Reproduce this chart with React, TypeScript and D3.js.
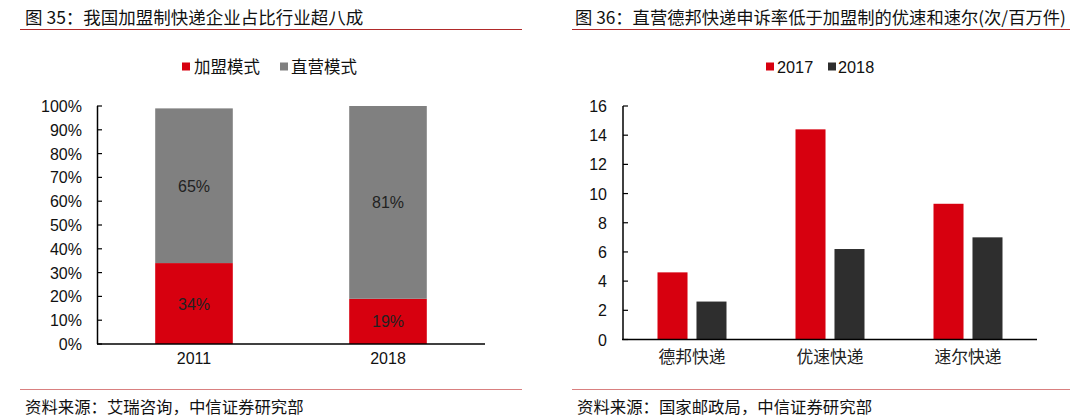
import React from "react";
import * as d3 from "d3";

const leftTitle = "图 35：我国加盟制快递企业占比行业超八成";
const rightTitle = "图 36：直营德邦快递申诉率低于加盟制的优速和速尔(次/百万件)";
const leftSource = "资料来源：艾瑞咨询，中信证券研究部";
const rightSource = "资料来源：国家邮政局，中信证券研究部";

const years = ["2011", "2018"];
const franchise = [34, 19];
const direct = [65, 81];
const leftSeriesNames = ["加盟模式", "直营模式"];
const leftTicks = [0, 10, 20, 30, 40, 50, 60, 70, 80, 90, 100];

const companies = ["德邦快递", "优速快递", "速尔快递"];
const v2017 = [4.6, 14.4, 9.3];
const v2018 = [2.6, 6.2, 7.0];
const rightSeriesNames = ["2017", "2018"];
const rightTicks = [0, 2, 4, 6, 8, 10, 12, 14, 16];

const RED = "#d7000f";
const GRAY = "#808080";
const DARK = "#2e2e2e";
const FONT = "'Liberation Sans', Arial, 'Noto Sans CJK SC', sans-serif";
const CJK = "'Noto Sans CJK SC', sans-serif";

export default function App() {
  const lx = d3.scaleBand().domain(years).range([97, 485]).paddingInner(0.6).paddingOuter(0.3);
  const ly = d3.scaleLinear().domain([0, 100]).range([344, 106]);
  const rx0 = d3.scaleBand().domain(companies).range([623, 1037]);
  const rx1 = d3.scaleBand().domain(rightSeriesNames).range([0, rx0.bandwidth()]).paddingInner(0.23).paddingOuter(0.885);
  const ry = d3.scaleLinear().domain([0, 16]).range([339.5, 106]);

  return (
    <div style={{ position: "absolute", left: 0, top: 0 }}>
      <svg width={1080} height={420} style={{ display: "block", background: "#fff" }}>
        {/* Left panel */}
        <text x={25} y={24} fontFamily={CJK} fontSize={17.5} fill="#111">{leftTitle}</text>
        <line x1={20} x2={522} y1={29.5} y2={29.5} stroke="#b02a2a" strokeWidth={1.2} />
        <rect x={182} y={62.5} width={8} height={8} fill={RED} />
        <text x={194} y={73} fontFamily={CJK} fontSize={16.5} fill="#111">{leftSeriesNames[0]}</text>
        <rect x={280} y={62.5} width={8} height={8} fill={GRAY} />
        <text x={291} y={73} fontFamily={CJK} fontSize={16.5} fill="#111">{leftSeriesNames[1]}</text>
        {years.map((y, i) => {
          const x = lx(y)!;
          const w = lx.bandwidth();
          return (
            <g key={y}>
              <rect x={x} y={ly(franchise[i])} width={w} height={ly(0) - ly(franchise[i])} fill={RED} />
              <rect x={x} y={ly(franchise[i] + direct[i])} width={w} height={ly(franchise[i]) - ly(franchise[i] + direct[i])} fill={GRAY} />
              <text x={x + w / 2} y={(ly(0) + ly(franchise[i])) / 2 + 6} textAnchor="middle" fontFamily={FONT} fontSize={16} fill="#222">{franchise[i]}%</text>
              <text x={x + w / 2} y={(ly(franchise[i]) + ly(franchise[i] + direct[i])) / 2 + 6} textAnchor="middle" fontFamily={FONT} fontSize={16} fill="#222">{direct[i]}%</text>
              <text x={x + w / 2} y={364} textAnchor="middle" fontFamily={FONT} fontSize={16} fill="#111">{y}</text>
            </g>
          );
        })}
        <line x1={97.5} x2={97.5} y1={106} y2={344} stroke="#000" strokeWidth={1.5} />
        <line x1={97} x2={485} y1={344} y2={344} stroke="#000" strokeWidth={1.5} />
        {leftTicks.map((t) => (
          <g key={t}>
            <line x1={97} x2={102} y1={ly(t)} y2={ly(t)} stroke="#000" strokeWidth={1.2} />
            <text x={82} y={ly(t) + 6} textAnchor="end" fontFamily={FONT} fontSize={16} fill="#111">{t}%</text>
          </g>
        ))}
        <line x1={20} x2={522} y1={389.5} y2={389.5} stroke="#d98080" strokeWidth={1.2} />
        <text x={25} y={413} fontFamily={CJK} fontSize={16.4} fill="#111">{leftSource}</text>

        {/* Right panel */}
        <text x={575} y={24} fontFamily={CJK} fontSize={17.3} fill="#111">{rightTitle}</text>
        <line x1={572} x2={1070} y1={29.5} y2={29.5} stroke="#b02a2a" strokeWidth={1.2} />
        <rect x={766} y={62.5} width={8} height={8} fill={RED} />
        <text x={777} y={73} fontFamily={FONT} fontSize={16.3} fill="#111">{rightSeriesNames[0]}</text>
        <rect x={828} y={62.5} width={8} height={8} fill={DARK} />
        <text x={838} y={73} fontFamily={FONT} fontSize={16.3} fill="#111">{rightSeriesNames[1]}</text>
        {companies.map((c, i) => {
          const x0 = rx0(c)!;
          return (
            <g key={c}>
              <rect x={x0 + rx1("2017")!} y={ry(v2017[i])} width={rx1.bandwidth()} height={ry(0) - ry(v2017[i])} fill={RED} />
              <rect x={x0 + rx1("2018")!} y={ry(v2018[i])} width={rx1.bandwidth()} height={ry(0) - ry(v2018[i])} fill={DARK} />
              <text x={x0 + rx0.bandwidth() / 2} y={363} textAnchor="middle" fontFamily={CJK} fontSize={16.8} fill="#222">{c}</text>
            </g>
          );
        })}
        <line x1={623} x2={623} y1={106} y2={339.5} stroke="#000" strokeWidth={1.5} />
        <line x1={622} x2={1037} y1={339.5} y2={339.5} stroke="#000" strokeWidth={1.5} />
        {rightTicks.map((t) => (
          <g key={t}>
            <line x1={623} x2={628} y1={ry(t)} y2={ry(t)} stroke="#000" strokeWidth={1.2} />
            <text x={607} y={ry(t) + 6} textAnchor="end" fontFamily={FONT} fontSize={16} fill="#111">{t}</text>
          </g>
        ))}
        <line x1={572} x2={1070} y1={389.5} y2={389.5} stroke="#d98080" strokeWidth={1.2} />
        <text x={577} y={413} fontFamily={CJK} fontSize={16.4} fill="#111">{rightSource}</text>
      </svg>
    </div>
  );
}
